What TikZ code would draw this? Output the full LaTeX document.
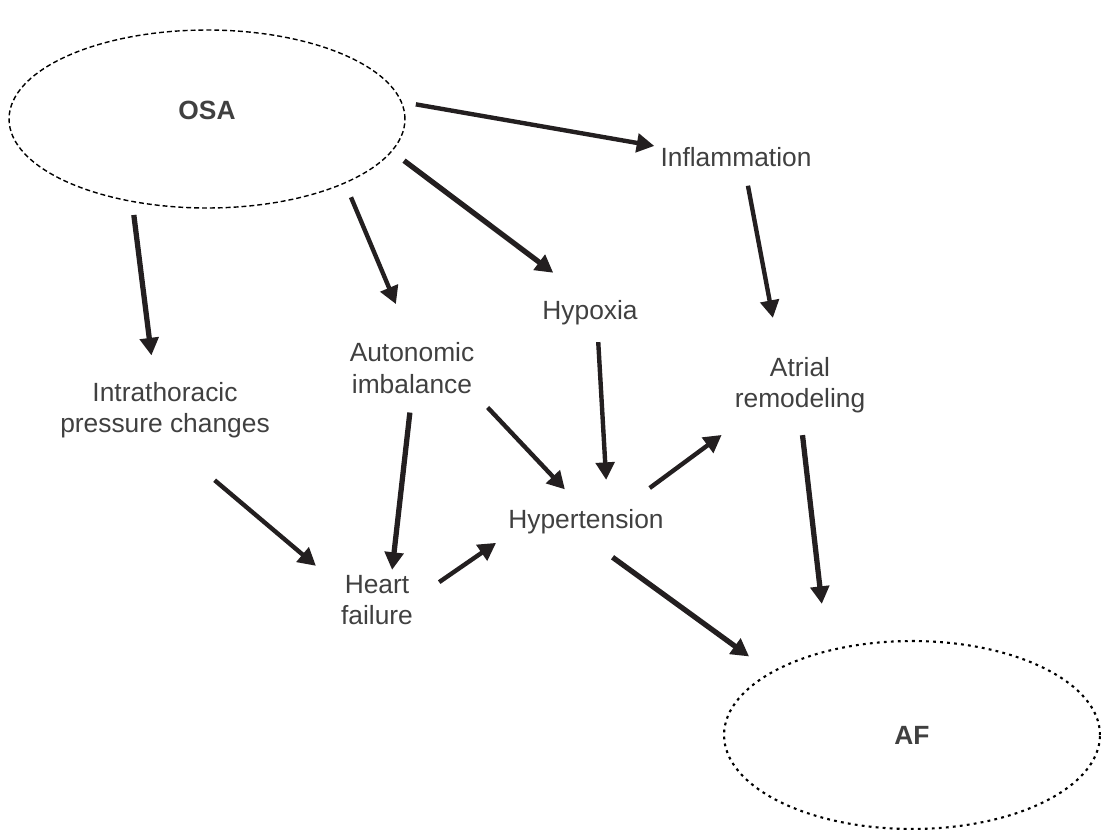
\documentclass[tikz,border=0pt]{standalone}
\usepackage{fontspec}
\setmainfont{Liberation Sans}
\usetikzlibrary{shapes.geometric, arrows.meta}

\definecolor{txtgray}{HTML}{404040}
\definecolor{arrblack}{HTML}{231F20}

\begin{document}
\begin{tikzpicture}[
    x=0.02cm, y=-0.02cm,
    factor/.style={font=\fontsize{15}{17.8}\selectfont, text=txtgray, align=center, inner sep=0pt},
    outcome/.style={ellipse, inner sep=0pt, font=\fontsize{15}{18}\selectfont\bfseries, text=txtgray},
    arr/.style={arrblack, line width=2.5pt, -{Triangle[length=10pt,width=10.5pt]}},
    bigarr/.style={arr, line width=3pt}
]
\useasboundingbox (0,0) rectangle (1101,829);

% the two ellipses
\node[outcome, draw=black, line width=0.8pt, dash pattern=on 2.8pt off 1.7pt,
      minimum width=7.92cm, minimum height=3.56cm, text height=0pt, text depth=0pt] (osa) at (207,119) {OSA};
\node[outcome, draw=black, line width=1.2pt, dash pattern=on 1.6pt off 2.4pt,
      minimum width=7.52cm, minimum height=3.76cm] (af) at (912,735) {AF};

% intermediate factors
\node[factor] (infl)   at (736,157) {Inflammation};
\node[factor] (hypoxia) at (590,313) {Hypoxia};
\node[factor] (auto)   at (412,368) {Autonomic\\imbalance};
\node[factor] (atrial) at (800,385) {Atrial\\remodeling};
\node[factor] (intra)  at (165,410) {Intrathoracic\\pressure changes};
\node[factor] (hyper)  at (586,522) {Hypertension};
\node[factor] (hf)     at (377,600) {Heart\\failure};

% arrows out of OSA
\draw[arr, shorten <=2.8mm, shorten >=1.2mm] (osa.5) -- (infl.north west);
\draw[bigarr, shorten <=3mm, shorten >=9.2mm] (osa.-10) -- (hypoxia.north);
\draw[arr, shorten <=3mm, shorten >=8.3mm] (osa.-25) -- (auto.north);
\draw[bigarr, shorten <=2.6mm, shorten >=5.3mm] (osa.228) -- (intra.110);

% middle
\draw[arr, shorten <=3.8mm, shorten >=7.9mm] (infl.-50) -- (atrial.125);
\draw[arr, shorten <=3.3mm, shorten >=5.9mm] (hypoxia.-60) -- (hyper.30);
\draw[arr, shorten <=3.8mm, shorten >=5.5mm] (auto.south east) -- (hyper.100);
\draw[bigarr, shorten <=3.8mm, shorten >=1mm] (auto.south) -- (hf.60);
\draw[arr, shorten <=13mm, shorten >=6.5mm] (intra.south) -- (hf.160);
\draw[arr, shorten <=6.3mm, shorten >=2.9mm] (hf.east) -- (hyper.south west);
\draw[arr, shorten <=7.2mm, shorten >=7.3mm] (hyper.20) -- (atrial.-150);

% into AF
\draw[bigarr, shorten <=7.7mm, shorten >=5.3mm] (hyper.-110) -- (af.156);
\draw[bigarr, shorten <=4.4mm, shorten >=9.3mm] (atrial.south) -- (af.135);
\end{tikzpicture}
\end{document}
